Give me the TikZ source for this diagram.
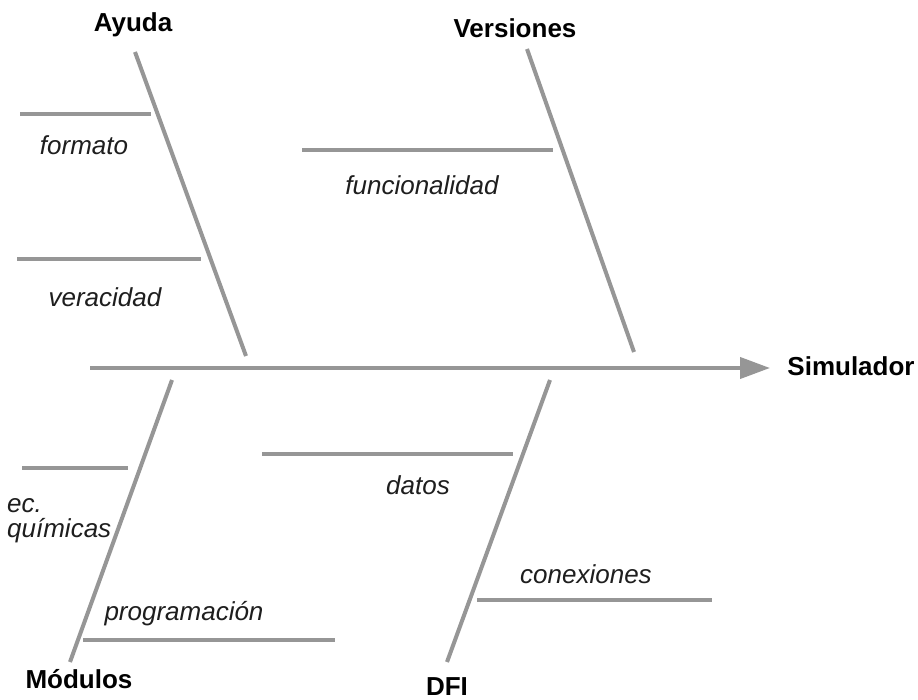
\documentclass[tikz,border=0pt]{standalone}
\usepackage{fontspec}
\setmainfont{Liberation Sans}
\usetikzlibrary{arrows.meta}
\definecolor{bonegray}{RGB}{150,150,150}
\definecolor{txtgray}{RGB}{30,30,30}
\tikzset{
  bone/.style={draw=bonegray, line width=4pt},
  bar/.style={draw=bonegray, line width=4pt},
  head/.style={font=\fontsize{26}{28}\selectfont\bfseries, text=black, inner sep=0pt, anchor=base},
  cause/.style={font=\fontsize{26}{25}\selectfont\itshape, text=txtgray, inner sep=0pt, anchor=base},
}
\begin{document}
\begin{tikzpicture}[x=1pt,y=-1pt]
\useasboundingbox (0,0) rectangle (918,700);
\fill[white] (0,0) rectangle (918,700);
% headings
\node[head] (ayuda) at (133,32) {Ayuda};
\node[head] (vers) at (515,38) {Versiones};
\node[head] (sim) at (851,375) {Simulador};
\node[head] (mod) at (79,688) {Módulos};
\node[head] (dfi) at (447,695) {DFI};
% spine
\coordinate (s0) at (90,368);
\coordinate (s1) at (770,368);
\draw[bone, -{Triangle[length=30pt,width=21pt]}] (s0) -- (s1);
% bones
\coordinate (a0) at (135,52);  \coordinate (a1) at (246,356);
\coordinate (v0) at (527,49);  \coordinate (v1) at (634,352);
\coordinate (m0) at (172,380); \coordinate (m1) at (70,662);
\coordinate (d0) at (550,380); \coordinate (d1) at (447,662);
\draw[bone] (a0) -- (a1);
\draw[bone] (v0) -- (v1);
\draw[bone] (m0) -- (m1);
\draw[bone] (d0) -- (d1);
% bars
\coordinate (f0) at (20,114);  \coordinate (f1) at (151,114);
\coordinate (r0) at (17,259);  \coordinate (r1) at (201,259);
\coordinate (u0) at (302,150); \coordinate (u1) at (553,150);
\coordinate (e0) at (22,468);  \coordinate (e1) at (128,468);
\coordinate (p0) at (83,640);  \coordinate (p1) at (335,640);
\coordinate (t0) at (262,454); \coordinate (t1) at (513,454);
\coordinate (c0) at (477,600); \coordinate (c1) at (712,600);
\draw[bar] (f0) -- (f1);
\draw[bar] (r0) -- (r1);
\draw[bar] (u0) -- (u1);
\draw[bar] (e0) -- (e1);
\draw[bar] (p0) -- (p1);
\draw[bar] (t0) -- (t1);
\draw[bar] (c0) -- (c1);
% cause labels
\node[cause] (formato) at (84,155) {formato};
\node[cause] (verac) at (105,307) {veracidad};
\node[cause] (func) at (422,195) {funcionalidad};
\node[cause] (datos) at (418,494) {datos};
\node[cause, anchor=base west] (ec) at (7,512) {ec.};
\node[cause, anchor=base west] (quim) at (7,537) {químicas};
\node[cause] (prog) at (184,620) {programación};
\node[cause] (conex) at (586,583) {conexiones};
\end{tikzpicture}
\end{document}
